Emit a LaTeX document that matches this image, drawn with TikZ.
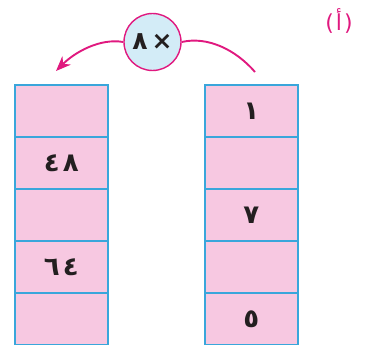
\documentclass[tikz,border=0pt]{standalone}
\usepackage{fontspec}
\newfontfamily\arabicfont[Script=Arabic]{DejaVu Sans}
\newfontfamily\parenfont{DejaVu Sans}
\usetikzlibrary{arrows.meta}
\definecolor{cellpink}{HTML}{F7C8E1}
\definecolor{cellblue}{HTML}{3AA6DB}
\definecolor{magentaA}{HTML}{E0197F}
\definecolor{circblue}{HTML}{D3ECF7}
\definecolor{inkdark}{HTML}{231F20}
\newcommand{\twodig}[2]{\hbox{#1}\kern3pt\hbox{#2}}
\tikzset{
  cell/.style={draw=cellblue, line width=1.6pt, fill=cellpink, minimum width=93pt, minimum height=52pt, inner sep=0pt, anchor=north west, font=\arabicfont\bfseries\fontsize{26}{28}\selectfont, text=inkdark},
  mult/.style={circle, draw=magentaA, line width=1.4pt, fill=circblue, minimum size=57pt, inner sep=0pt, font=\arabicfont\bfseries\fontsize{25}{27}\selectfont, text=inkdark},
  conn/.style={draw=magentaA, line width=1.9pt},
  lbl/.style={font=\fontsize{22}{24}\selectfont, text=magentaA}
}
\begin{document}
\begin{tikzpicture}[x=1pt,y=-1pt]
\useasboundingbox (0,0) rectangle (370,345);
% left column
\node[cell] (l1) at (14,84) {};
\node[cell] (l2) at (14,136) {\twodig{٤}{٨}};
\node[cell] (l3) at (14,188) {};
\node[cell] (l4) at (14,240) {\twodig{٦}{٤}};
\node[cell] (l5) at (14,292) {};
% right column
\node[cell] (r1) at (204,84) {١};
\node[cell] (r2) at (204,136) {};
\node[cell] (r3) at (204,188) {٧};
\node[cell] (r4) at (204,240) {};
\node[cell] (r5) at (204,292) {٥};
% multiplier
\node[mult] (m) at (152.5,42) {\hbox{٨}\kern4pt\hbox{×}};
\coordinate (s) at (255,72);
\coordinate (t) at (56,71);
\draw[conn] (s) .. controls (236,50) and (208,36) .. (m.east);
\draw[conn, -{Stealth[length=15pt,width=12pt]}] (m.west) .. controls (100,38) and (75,52) .. (t);
% label
\node[lbl] (lab) at (339,21) {\hbox{\parenfont(}\kern2pt\hbox{\arabicfont أ}\kern2pt\hbox{\parenfont)}};
\end{tikzpicture}
\end{document}
